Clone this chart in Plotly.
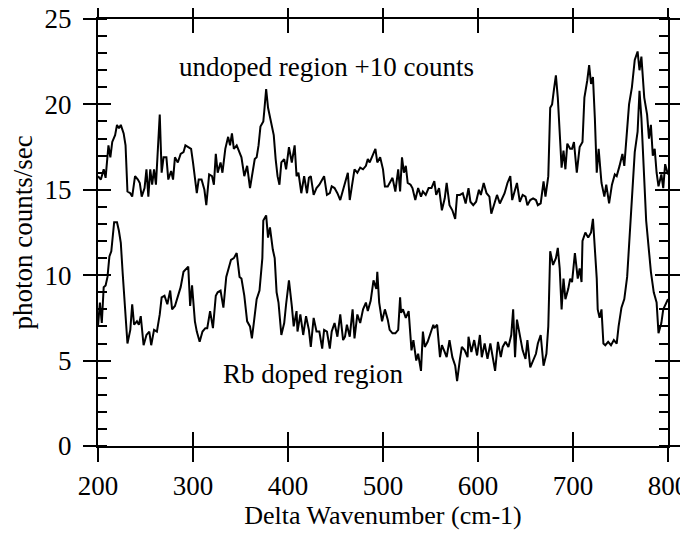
import plotly.graph_objects as go

# spectra (x = delta wavenumber, y = counts/sec)
undoped_x = [
    200, 203, 205, 206, 208, 211, 213, 215, 218, 220,
    222, 224, 227, 229, 231, 234, 236, 239, 242, 244,
    246, 249, 251, 253, 255, 257, 259, 261, 265, 267,
    269, 272, 274, 277, 279, 281, 284, 287, 290, 292,
    295, 298, 300, 302, 304, 306, 309, 312, 314, 317,
    320, 322, 324, 326, 329, 331, 334, 337, 339, 341,
    343, 346, 349, 351, 354, 357, 360, 362, 365, 367,
    369, 371, 374, 375, 377, 379, 382, 385, 387, 389,
    391, 393, 396, 398, 401, 404, 407, 409, 411, 414,
    417, 420, 422, 424, 427, 430, 433, 435, 438, 441,
    444, 446, 449, 452, 455, 458, 460, 463, 465, 468,
    470, 473, 476, 479, 482, 484, 486, 489, 492, 494,
    497, 500, 502, 505, 507, 510, 513, 516, 518, 520,
    522, 524, 526, 529, 531, 534, 537, 540, 542, 545,
    548, 551, 554, 556, 559, 562, 565, 567, 570, 573,
    576, 578, 581, 584, 587, 590, 592, 595, 598, 601,
    603, 606, 609, 612, 614, 617, 620, 623, 626, 628,
    631, 634, 636, 639, 641, 644, 647, 650, 652, 655,
    658, 661, 663, 666, 669, 671, 674, 676, 678, 680,
    682, 684, 686, 688, 690, 692, 694, 697, 699, 701,
    704, 707, 710, 712, 715, 717, 719, 721, 723, 725,
    727, 730, 733, 735, 738, 741, 744, 746, 749, 752,
    754, 757, 759, 762, 765, 768, 770, 772, 775, 778,
    780, 782, 784, 786, 788, 790, 793, 795, 797, 800,
]
undoped_y = [
    15.8, 15.6, 16.0, 16.2, 15.7, 17.6, 16.9, 17.8, 18.2, 18.8,
    18.6, 18.8, 18.3, 17.6, 14.9, 14.8, 14.6, 15.8, 15.6, 15.4,
    14.6, 15.1, 16.2, 14.6, 16.2, 15.3, 16.2, 15.3, 19.4, 16.0,
    16.9, 16.9, 15.6, 16.1, 15.6, 16.9, 16.6, 17.1, 17.2, 17.6,
    17.5, 17.4, 16.6, 15.8, 14.8, 15.6, 15.6, 15.0, 14.1, 15.9,
    15.8, 15.3, 17.1, 16.0, 16.6, 16.0, 17.4, 18.1, 17.6, 18.3,
    17.4, 17.6, 17.2, 16.9, 15.8, 16.4, 15.1, 15.8, 16.8, 16.9,
    17.6, 18.7, 19.0, 19.6, 20.9, 19.8, 19.0, 18.2, 16.8, 15.8,
    15.3, 16.6, 16.8, 16.2, 17.5, 16.6, 17.6, 15.8, 16.0, 14.8,
    15.8, 14.8, 15.7, 15.8, 14.7, 15.1, 15.3, 15.5, 15.8, 14.7,
    14.8, 15.2, 15.1, 14.8, 14.4, 15.0, 15.4, 16.0, 14.4, 15.6,
    16.2, 16.0, 16.3, 16.2, 16.4, 16.8, 16.6, 17.0, 17.4, 16.6,
    16.9, 16.2, 15.2, 15.2, 15.4, 15.7, 14.9, 16.2, 14.9, 16.9,
    16.0, 16.4, 15.4, 15.3, 15.1, 14.4, 15.1, 14.6, 14.9, 14.7,
    15.1, 15.1, 15.5, 14.7, 15.1, 13.8, 14.5, 15.4, 14.1, 13.8,
    13.3, 14.7, 14.7, 14.8, 14.2, 15.1, 14.3, 14.1, 14.3, 15.0,
    14.7, 15.4, 14.8, 14.6, 13.6, 14.2, 14.7, 14.2, 14.6, 14.8,
    15.4, 15.8, 14.4, 15.0, 15.4, 14.3, 14.7, 14.6, 14.1, 14.4,
    14.5, 14.4, 14.1, 14.2, 15.5, 14.6, 15.8, 19.8, 20.0, 20.9,
    21.7, 20.4, 18.2, 16.3, 17.3, 16.2, 17.7, 17.4, 17.4, 17.8,
    16.0, 17.5, 17.8, 20.4, 21.4, 22.3, 21.2, 21.6, 19.2, 16.0,
    17.4, 15.4, 14.6, 15.3, 14.2, 15.3, 15.9, 15.8, 16.4, 17.1,
    16.4, 18.6, 20.0, 21.0, 22.6, 23.1, 22.0, 22.8, 20.4, 19.4,
    18.0, 18.8, 17.0, 17.4, 16.0, 15.2, 15.9, 15.1, 16.5, 15.9,
]

doped_x = [
    200, 202, 204, 206, 208, 210, 212, 214, 217, 220,
    222, 224, 226, 228, 231, 234, 236, 238, 241, 243,
    245, 248, 251, 254, 256, 259, 262, 265, 267, 270,
    273, 276, 278, 281, 284, 287, 290, 292, 295, 297,
    299, 302, 304, 307, 310, 313, 315, 318, 321, 324,
    326, 329, 332, 335, 338, 340, 343, 346, 349, 351,
    354, 357, 360, 362, 364, 367, 370, 373, 374, 377,
    379, 381, 384, 386, 388, 390, 393, 396, 398, 401,
    404, 406, 409, 410, 413, 416, 419, 422, 424, 427,
    430, 433, 436, 438, 441, 444, 446, 449, 452, 455,
    458, 460, 462, 465, 468, 470, 473, 476, 479, 482,
    484, 487, 490, 493, 494, 496, 499, 502, 505, 507,
    510, 513, 516, 518, 519, 521, 524, 527, 530, 532,
    535, 537, 540, 542, 544, 547, 550, 553, 554, 557,
    560, 562, 565, 567, 570, 573, 576, 578, 581, 583,
    586, 589, 590, 593, 596, 599, 602, 604, 607, 610,
    613, 615, 618, 621, 624, 626, 629, 632, 635, 637,
    639, 641, 644, 647, 650, 652, 655, 658, 661, 663,
    666, 669, 672, 674, 676, 679, 682, 684, 686, 688,
    690, 692, 695, 697, 699, 702, 705, 707, 709, 710,
    713, 716, 719, 721, 723, 725, 726, 728, 730, 732,
    734, 737, 740, 743, 746, 748, 751, 754, 757, 759,
    762, 765, 768, 770, 772, 774, 777, 780, 782, 785,
    788, 790, 793, 795, 798, 800,
]
doped_y = [
    7.0, 8.4, 7.2, 9.3, 9.4, 9.9, 11.1, 11.4, 13.1, 13.1,
    12.6, 11.9, 10.1, 8.2, 6.0, 6.8, 8.3, 7.1, 7.3, 7.1,
    7.6, 5.9, 6.5, 6.7, 5.9, 6.8, 6.7, 7.7, 8.7, 8.8,
    8.3, 9.1, 8.0, 8.2, 8.8, 9.3, 10.2, 10.3, 10.5, 8.2,
    9.4, 7.3, 6.7, 6.1, 6.7, 6.9, 6.9, 7.9, 6.9, 8.8,
    9.0, 9.1, 8.1, 9.9, 10.6, 10.9, 11.0, 11.3, 9.9, 9.8,
    8.8, 7.3, 7.0, 6.3, 7.2, 8.6, 9.1, 11.0, 13.2, 13.5,
    12.2, 12.8, 11.5, 11.0, 9.0, 8.4, 6.5, 7.2, 8.3, 9.7,
    8.2, 7.0, 7.9, 6.7, 7.7, 6.5, 7.6, 6.8, 5.8, 7.5,
    6.7, 6.7, 5.7, 6.8, 6.7, 5.7, 6.7, 7.2, 6.4, 7.7,
    6.2, 6.4, 7.1, 6.4, 8.0, 6.3, 7.7, 7.2, 8.0, 8.4,
    7.9, 8.5, 9.7, 9.2, 10.2, 8.4, 7.3, 8.0, 7.4, 6.8,
    6.6, 6.6, 6.8, 8.7, 7.8, 8.0, 7.5, 7.9, 5.6, 6.2,
    5.0, 5.4, 4.4, 6.7, 5.8, 6.1, 6.6, 7.1, 6.9, 7.1,
    5.2, 5.9, 5.5, 5.2, 6.2, 5.2, 4.7, 3.8, 5.1, 5.8,
    5.6, 5.2, 6.4, 5.5, 6.2, 5.3, 6.5, 5.2, 6.0, 5.1,
    6.0, 5.4, 4.4, 6.1, 5.2, 5.8, 6.1, 5.8, 6.5, 8.0,
    5.2, 7.4, 6.4, 5.6, 5.1, 6.2, 4.6, 5.0, 5.4, 6.0,
    6.5, 4.7, 5.4, 7.0, 11.4, 10.6, 11.0, 11.6, 10.4, 8.0,
    9.8, 8.6, 9.2, 9.8, 9.6, 11.3, 9.8, 10.4, 9.6, 12.0,
    12.5, 12.2, 12.5, 13.3, 11.8, 9.8, 8.0, 7.5, 8.0, 6.0,
    5.9, 6.1, 5.9, 6.2, 6.0, 7.0, 8.1, 8.6, 9.9, 11.8,
    15.0, 17.2, 18.4, 20.8, 19.2, 16.4, 13.2, 11.4, 10.2, 9.0,
    8.4, 6.6, 7.2, 8.0, 8.4, 8.6,
]
assert len(undoped_x) == len(undoped_y)
assert len(doped_x) == len(doped_y)

FONT = "Liberation Serif"

fig = go.Figure()
for xs, ys in [(undoped_x, undoped_y), (doped_x, doped_y)]:
    fig.add_trace(go.Scatter(x=xs, y=ys, mode="lines",
                             line=dict(color="black", width=2),
                             showlegend=False, hoverinfo="skip"))
# empty trace so the overlay axes (inner half of the crossing ticks) get drawn
fig.add_trace(go.Scatter(x=[], y=[], xaxis="x2", yaxis="y2",
                         showlegend=False, hoverinfo="skip"))

axis_common = dict(showline=True, linewidth=2, linecolor="black",
                   showgrid=False, zeroline=False, mirror="ticks",
                   tickwidth=2, tickcolor="black", automargin=False,
                   ticklabeloverflow="allow")

# page body has an 8px margin, so the figure is 8px smaller than the window
fig.update_layout(
    width=680, height=525,
    margin=dict(l=90, r=20, t=11, b=87),
    paper_bgcolor="white", plot_bgcolor="white",
    font=dict(family=FONT, size=27, color="black"),
    xaxis=dict(range=[200, 800], dtick=100, ticks="outside", ticklen=14,
               ticklabelstandoff=1,
               title=dict(text="Delta Wavenumber (cm-1)", standoff=0,
                          font=dict(size=26)),
               **axis_common),
    xaxis2=dict(range=[200, 800], dtick=100, ticks="inside", ticklen=14,
                overlaying="x", anchor="y", showticklabels=False,
                **axis_common),
    yaxis=dict(range=[0, 25], dtick=5, ticks="outside", ticklen=13,
               ticklabelstandoff=6,
               minor=dict(ticks="inside", dtick=1, ticklen=9,
                          tickwidth=2, tickcolor="black"),
               title=dict(text="photon counts/sec", standoff=10,
                          font=dict(size=27)),
               **axis_common),
    yaxis2=dict(range=[0, 25], dtick=5, ticks="inside", ticklen=13,
                overlaying="y", anchor="x", showticklabels=False,
                **axis_common),
    annotations=[
        dict(x=441, y=22.2, text="undoped region +10 counts",
             showarrow=False, font=dict(size=27)),
        dict(x=426, y=4.2, text="Rb doped region",
             showarrow=False, font=dict(size=27)),
    ],
)

fig.write_html("out.html")
